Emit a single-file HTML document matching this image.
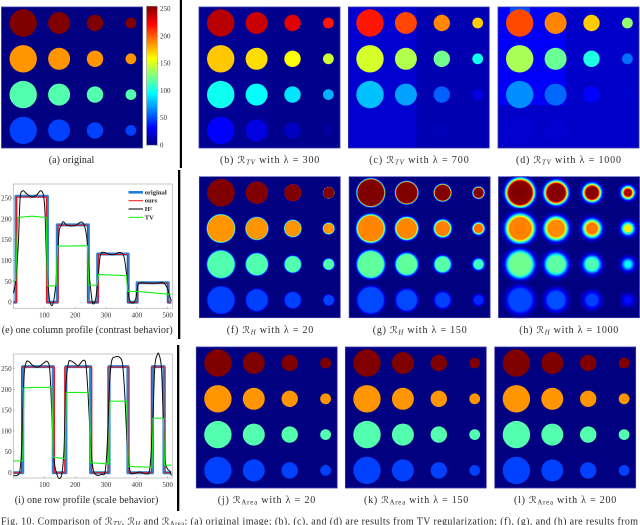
<!DOCTYPE html>
<html lang="en">
<head>
<meta charset="utf-8">
<title>Fig. 10 regularization comparison</title>
<style>
html,body{margin:0;padding:0;background:#fff;width:640px;height:525px;overflow:hidden}
svg{display:block;position:absolute;left:0;top:0}
text{font-family:"Liberation Serif","DejaVu Serif",serif}
.cap{font-size:10px;fill:#2a2a2a}
.math{font-family:"DejaVu Sans","Liberation Serif",serif;font-size:9.5px}
.sub{font-size:6.8px;font-style:italic}
.tick{font-size:7px;fill:#333}
.leg{font-size:6.6px;fill:#222;font-weight:bold}
</style>
</head>
<body>
<svg id="fig" xmlns="http://www.w3.org/2000/svg" width="640" height="525" viewBox="0 0 640 525">
<defs>
<filter id="soft" x="-5%" y="-5%" width="110%" height="110%"><feGaussianBlur stdDeviation="0.35"/></filter>
<filter id="softLine" x="-5%" y="-5%" width="110%" height="110%"><feGaussianBlur stdDeviation="0.3"/></filter>
<filter id="softText" x="-2%" y="-20%" width="104%" height="140%"><feGaussianBlur stdDeviation="0.22"/></filter>
<clipPath id="panelClip"><rect x="-0.5" y="-0.5" width="142" height="142"/></clipPath>
</defs>
<rect x="179.8" y="0" width="2.2" height="168" fill="#000"/>
<rect x="178" y="170" width="2.3" height="169" fill="#000"/>
<rect x="177" y="345" width="2.3" height="166" fill="#000"/>
<g id="panels"></g>
<g id="colorbar"></g>
<g id="charts"></g>

<g filter="url(#softText)">
<text class="cap" x="48.7" y="163" textLength="45.6" lengthAdjust="spacing">(a) original</text>
<text class="cap" x="220" y="163" textLength="99.3" lengthAdjust="spacing">(b) <tspan class="math">ℛ</tspan><tspan class="sub" dy="1.5">TV</tspan><tspan dy="-1.5"> with λ = 300</tspan></text>
<text class="cap" x="369.3" y="163" textLength="99.4" lengthAdjust="spacing">(c) <tspan class="math">ℛ</tspan><tspan class="sub" dy="1.5">TV</tspan><tspan dy="-1.5"> with λ = 700</tspan></text>
<text class="cap" x="516" y="163" textLength="105" lengthAdjust="spacing">(d) <tspan class="math">ℛ</tspan><tspan class="sub" dy="1.5">TV</tspan><tspan dy="-1.5"> with λ = 1000</tspan></text>
<text class="cap" x="1.7" y="333" textLength="171" lengthAdjust="spacing">(e) one column profile (contrast behavior)</text>
<text class="cap" x="226.7" y="333" textLength="86.6" lengthAdjust="spacing">(f) <tspan class="math">ℛ</tspan><tspan class="sub" dy="1.5">H</tspan><tspan dy="-1.5"> with λ = 20</tspan></text>
<text class="cap" x="372.7" y="333" textLength="94" lengthAdjust="spacing">(g) <tspan class="math">ℛ</tspan><tspan class="sub" dy="1.5">H</tspan><tspan dy="-1.5"> with λ = 150</tspan></text>
<text class="cap" x="519.3" y="333" textLength="99" lengthAdjust="spacing">(h) <tspan class="math">ℛ</tspan><tspan class="sub" dy="1.5">H</tspan><tspan dy="-1.5"> with λ = 1000</tspan></text>
<text class="cap" x="14.7" y="503" textLength="143.6" lengthAdjust="spacing">(i) one row profile (scale behavior)</text>
<text class="cap" x="217.7" y="503" textLength="97.6" lengthAdjust="spacing">(j) <tspan class="math">ℛ</tspan><tspan class="sub" dy="1.5" style="font-style:normal">Area</tspan><tspan dy="-1.5"> with λ = 20</tspan></text>
<text class="cap" x="364" y="503" textLength="104.3" lengthAdjust="spacing">(k) <tspan class="math">ℛ</tspan><tspan class="sub" dy="1.5" style="font-style:normal">Area</tspan><tspan dy="-1.5"> with λ = 150</tspan></text>
<text class="cap" x="514" y="503" textLength="102.3" lengthAdjust="spacing">(l) <tspan class="math">ℛ</tspan><tspan class="sub" dy="1.5" style="font-style:normal">Area</tspan><tspan dy="-1.5"> with λ = 200</tspan></text>
<text class="cap" x="1" y="524.5" textLength="637" lengthAdjust="spacing">Fig. 10.  Comparison of <tspan class="math">ℛ</tspan><tspan class="sub" dy="1.5">TV</tspan><tspan dy="-1.5">, </tspan><tspan class="math">ℛ</tspan><tspan class="sub" dy="1.5">H</tspan><tspan dy="-1.5"> and </tspan><tspan class="math">ℛ</tspan><tspan class="sub" dy="1.5" style="font-style:normal">Area</tspan><tspan dy="-1.5">: (a) original image; (b), (c), and (d) are results from TV regularization; (f), (g), and (h) are results from</tspan></text>
</g>
</svg>

<script>
// ----- image panel intensities (0-255), rows by columns -----
const circleRadii = [13.7, 11, 8.2, 5.4];
const levelsOriginal = [[255,255,255,255],[186,186,186,186],[116,116,116,116],[48,48,48,48]];
const levelsTV300 = [[241,236,230,217],[173,168,159,147],[99,96,89,76],[32,24,16,8]];
const levelsTV700 = [[217,206,189,172],[149,140,124,100],[80,72,56,24],[20,20,14,12]];
const levelsTV1000 = [[205,190,172,132],[138,122,102,60],[67,58,32,20],[20,20,18,18]];
const levelsH20 = [[255,255,255,255],[186,186,186,186],[116,116,116,116],[48,48,48,48]];
const levelsH150 = [[255,255,255,255],[190,190,192,196],[120,120,118,112],[50,50,48,42]];
const levelsH1000 = [[255,255,255,245],[192,190,195,165],[124,120,116,96],[50,52,48,36]];
const backgroundTV300 = [3,5];
const backgroundTV700 = [12,20];
const backgroundTV1000 = [18,30];
const stripTV1000 = 52;
const colorbarTicks = [0,50,100,150,200,250];

// ----- column profile series -----
const columnOriginalX = [0,8,8,110,110,142,142,243,243,273,273,372,372,401,401,502,502,512];
const columnOriginalY = [0,0,255,255,0,0,186,186,0,0,116,116,0,0,47,47,0,0];
const columnOursX = [0,10,10,107,107,145,145,240,240,275,275,370,370,403,403,500,500,512];
const columnOursY = [0,0,253,253,0,0,185,185,0,0,115,115,0,0,46,46,0,0];
const columnH2X = [0,8,16,21.5,30,41,59,75,88,97,102,107,113,118,125,131,137,142,148,155,161,172,188,204,220,231,239,245,253,258,267,275,282,293,312,328,345,358,367,375,386,397,404,415,437,464,486,499,507,512];
const columnH2Y = [22,58,146,250,268,262,253,258,268,258,218,106,34,2,-8,6,42,98,170,184,194,186,183,186,193,182,146,74,14,-4,10,66,114,120,115,115,120,110,66,10,-2,10,42,47,46,46,47,34,14,3];
const columnTVX = [0,7,14,60,106,110,138,143,240,244,271,276,366,371,400,512];
const columnTVY = [51,52,204,207,204,40,39,135,136,41,41,67,64,26,26,19];

// ----- row profile series -----
const rowOriginalX = [0,30,30,129,129,170,170,250,250,310,310,371,371,451,451,488,488,512];
const rowOriginalY = [0,0,255,255,0,0,255,255,0,0,255,255,0,0,255,255,0,0];
const rowOursX = [0,26,26,133,133,166,166,254,254,306,306,375,375,447,447,492,492,512];
const rowOursY = [0,0,254,254,0,0,254,254,0,0,254,254,0,0,254,254,0,0];
const rowH2X = [0,13,21,27,34,40,48,64,80,97,110,118,125,131,140,148,157,164,170,178,185,199,210,226,235,242,250,258,270,286,297,304,311,318,329,345,354,361,369,378,388,410,431,442,451,458,466,472,480,485,491,499,507,512];
const rowH2Y = [-7,-6,6,66,227,263,268,257,254,263,267,243,130,34,-2,-14,-2,58,210,263,269,263,257,270,259,187,74,10,-6,-4,2,66,203,267,278,277,259,187,66,4,-2,2,-3,10,107,251,283,284,251,147,34,10,4,-7];
const rowTVX = [0,30,34,64,124,129,167,171,246,250,308,313,367,372,449,453,486,490,512];
const rowTVY = [28,29,204,205,205,37,34,193,193,24,21,172,172,15,13,131,131,18,18];

// ----- shared tick and legend labels -----
const profileYTicks = [0,50,100,150,200,250];
const profileXTicks = [100,200,300,400,500];
const legendLabels = ['original','ours','H²','TV'];
const legendColors = ['#1f7fd0','#f23a3a','#111111','#22ee22'];

const NS = 'http://www.w3.org/2000/svg';
function mk(tag, parent) {
  const el = document.createElementNS(NS, tag);
  parent.appendChild(el);
  return el;
}
function clamp01(v) { return Math.max(0, Math.min(1, v)); }
function jet(value) {
  const v = clamp01(value / 255);
  const r = clamp01(1.5 - Math.abs(4 * v - 3));
  const g = clamp01(1.5 - Math.abs(4 * v - 2));
  const b = clamp01(1.5 - Math.abs(4 * v - 1));
  return 'rgb(' + Math.round(r * 255) + ',' + Math.round(g * 255) + ',' + Math.round(b * 255) + ')';
}

const PANEL_SIZE = 141;
function panelX(col) { return 21.7 + col * 35.9; }
function panelY(row) { return 16 + row * 35.8; }

const svgRoot = document.getElementById('fig');
const defsRoot = svgRoot.querySelector('defs');
const panelsRoot = document.getElementById('panels');
let gradientCount = 0;

function softProfile(level, radius, s, r) {
  const edge = 1 / (1 + Math.exp((r - radius - 0.3) / s));
  const bump = 0.1 * Math.exp(-Math.pow((r - (radius - 1.8 * s)) / (s * 1.1), 2));
  return level * (edge + bump);
}

function softnessFor(value, softness) {
  if (value < 240) return softness;
  if (softness < 0.5) return softness * 0.3;
  if (softness < 1) return softness * 0.6;
  return softness * 0.8;
}

function drawPanel(name, left, top, levels, background, softness) {
  const g = mk('g', panelsRoot);
  
  
  g.setAttribute('transform', 'translate(' + left + ',' + top + ')');
  g.setAttribute('filter', 'url(#soft)');
  g.setAttribute('clip-path', 'url(#panelClip)');
  const bg = mk('rect', g);
  
  
  bg.setAttribute('width', PANEL_SIZE);
  bg.setAttribute('height', PANEL_SIZE);
  bg.setAttribute('fill', jet(background[0]));
  if (background[1] !== undefined) {
    const patch = mk('rect', g);
    
    
    patch.setAttribute('width', 68);
    patch.setAttribute('height', name === 'panel-d' ? 98 : PANEL_SIZE);
    patch.setAttribute('fill', jet(background[1]));
  }
  if (name === 'panel-d') {
    const strip = mk('rect', g);
    
    
    strip.setAttribute('x', 12);
    strip.setAttribute('width', 20);
    strip.setAttribute('height', 6);
    strip.setAttribute('fill', jet(stripTV1000));
  }
  levels.forEach(function (rowVals, row) {
    rowVals.forEach(function (value, col) {
      const radius = circleRadii[col];
      const c = mk('circle', g);
      
      
      c.setAttribute('cx', panelX(col));
      c.setAttribute('cy', panelY(row));
      if (softness > 0) {
        const s = softnessFor(value, softness);
        const outer = radius + 4.5 * s;
        const id = 'grad' + (gradientCount++);
        const grad = mk('radialGradient', defsRoot);
        grad.setAttribute('id', id);
        for (let i = 0; i <= 24; i++) {
          const stop = mk('stop', grad);
          stop.setAttribute('offset', i / 24);
          const val = softProfile(value, radius, s, outer * i / 24);
          stop.setAttribute('stop-color', jet(val));
          stop.setAttribute('stop-opacity', i === 24 ? 0 : clamp01(val / 4));
        }
        c.setAttribute('r', outer);
        c.setAttribute('fill', 'url(#' + id + ')');
      } else {
        c.setAttribute('r', radius);
        c.setAttribute('fill', jet(value));
      }
    });
  });
  const frame = mk('rect', g);
  
  
  frame.setAttribute('width', PANEL_SIZE);
  frame.setAttribute('height', PANEL_SIZE);
  frame.setAttribute('fill', 'none');
  frame.setAttribute('stroke', '#3a3aa6');
  frame.setAttribute('stroke-width', '0.8');
}

drawPanel('panel-a', 1.5, 7, levelsOriginal, [0], 0);
drawPanel('panel-b', 199, 7, levelsTV300, backgroundTV300, 0);
drawPanel('panel-c', 348.3, 7, levelsTV700, backgroundTV700, 0);
drawPanel('panel-d', 498, 7, levelsTV1000, backgroundTV1000, 0);
drawPanel('panel-f', 199.3, 176.7, levelsH20, [0], 0.35);
drawPanel('panel-g', 349.1, 176.7, levelsH150, [0], 0.7);
drawPanel('panel-h', 498.5, 176.7, levelsH1000, [0], 1.55);
drawPanel('panel-j', 196.2, 347, levelsOriginal, [0], 0);
drawPanel('panel-k', 345.3, 347, levelsOriginal, [0], 0);
drawPanel('panel-l', 494.7, 347, levelsOriginal, [0], 0);

// ----- colorbar -----
(function () {
  const root = document.getElementById('colorbar');
  const grad = mk('linearGradient', defsRoot);
  grad.setAttribute('id', 'jetBar');
  grad.setAttribute('x1', 0); grad.setAttribute('x2', 0);
  grad.setAttribute('y1', 1); grad.setAttribute('y2', 0);
  for (let i = 0; i <= 32; i++) {
    const stop = mk('stop', grad);
    stop.setAttribute('offset', i / 32);
    stop.setAttribute('stop-color', jet(255 * i / 32));
  }
  const bar = mk('rect', root);
  
  
  bar.setAttribute('x', 146.5); bar.setAttribute('y', 6.2);
  bar.setAttribute('width', 10.8); bar.setAttribute('height', 139);
  bar.setAttribute('fill', 'url(#jetBar)');
  bar.setAttribute('stroke', '#999'); bar.setAttribute('stroke-width', '0.6');
  bar.setAttribute('filter', 'url(#softLine)');
  const barY = function (v) { return 145.2 - v * 139 / 255; };
  colorbarTicks.forEach(function (tick) {
    const t = mk('text', root);
    
    
    t.setAttribute('class', 'tick');
    t.setAttribute('x', 160);
    t.setAttribute('y', barY(tick) + 2.3);
    t.setAttribute('filter', 'url(#softText)');
    t.textContent = tick;
    const m = mk('line', root);
    
    
    m.setAttribute('x1', 157.3); m.setAttribute('x2', 158.6);
    m.setAttribute('y1', barY(tick)); m.setAttribute('y2', barY(tick));
    m.setAttribute('stroke', '#777'); m.setAttribute('stroke-width', '0.5');
  });
})();

// ----- profile charts -----
const chartsRoot = document.getElementById('charts');

function smoothPath(xs, ys) {
  let d = 'M' + xs[0].toFixed(2) + ' ' + ys[0].toFixed(2);
  for (let i = 0; i < xs.length - 1; i++) {
    const p0 = Math.max(0, i - 1);
    const p3 = Math.min(xs.length - 1, i + 2);
    const c1x = xs[i] + (xs[i + 1] - xs[p0]) / 6;
    const c1y = ys[i] + (ys[i + 1] - ys[p0]) / 6;
    const c2x = xs[i + 1] - (xs[p3] - xs[i]) / 6;
    const c2y = ys[i + 1] - (ys[p3] - ys[i]) / 6;
    d += 'C' + c1x.toFixed(2) + ' ' + c1y.toFixed(2) + ' ' + c2x.toFixed(2) + ' ' + c2y.toFixed(2) + ' ' + xs[i + 1].toFixed(2) + ' ' + ys[i + 1].toFixed(2);
  }
  return d;
}

function drawChart(name, box, series, showLegend) {
  const g = mk('g', chartsRoot);
  
  
  const xScale = function (v) { return 13.5 + v * 0.3083; };
  const yScale = function (v) { return box.zero - v * box.k; };

  const frame = mk('rect', g);
  
  
  frame.setAttribute('x', box.left); frame.setAttribute('y', box.top);
  frame.setAttribute('width', box.right - box.left);
  frame.setAttribute('height', box.bottom - box.top);
  frame.setAttribute('fill', '#fff');
  frame.setAttribute('stroke', '#b0b0b0'); frame.setAttribute('stroke-width', '0.7');

  profileYTicks.forEach(function (tick) {
    const t = mk('text', g);
    
    
    t.setAttribute('class', 'tick');
    t.setAttribute('x', 11.6);
    t.setAttribute('y', yScale(tick) + 2.3);
    t.setAttribute('text-anchor', 'end');
    t.setAttribute('filter', 'url(#softText)');
    t.textContent = tick;
    const m = mk('line', g);
    
    
    m.setAttribute('x1', box.left); m.setAttribute('x2', box.left + 1.5);
    m.setAttribute('y1', yScale(tick)); m.setAttribute('y2', yScale(tick));
    m.setAttribute('stroke', '#888'); m.setAttribute('stroke-width', '0.5');
  });
  profileXTicks.forEach(function (tick) {
    const t = mk('text', g);
    
    
    t.setAttribute('class', 'tick');
    t.setAttribute('x', xScale(tick));
    t.setAttribute('y', box.bottom + 9);
    t.setAttribute('text-anchor', 'middle');
    t.setAttribute('filter', 'url(#softText)');
    t.textContent = tick;
    const m = mk('line', g);
    
    
    m.setAttribute('x1', xScale(tick)); m.setAttribute('x2', xScale(tick));
    m.setAttribute('y1', box.bottom); m.setAttribute('y2', box.bottom - 1.5);
    m.setAttribute('stroke', '#888'); m.setAttribute('stroke-width', '0.5');
  });

  series.forEach(function (s) {
    const line = mk('path', g);
    
    
    line.setAttribute('fill', 'none');
    line.setAttribute('stroke', s.color);
    line.setAttribute('stroke-width', s.width);
    line.setAttribute('stroke-linejoin', 'round');
    line.setAttribute('filter', 'url(#softLine)');
    const px = s.x.map(xScale);
    const py = s.y.map(yScale);
    if (s.smooth) {
      line.setAttribute('d', smoothPath(px, py));
    } else {
      line.setAttribute('d', 'M' + px.map(function (v, i) {
        return v.toFixed(2) + ' ' + py[i].toFixed(2);
      }).join('L'));
    }
  });

  if (showLegend) {
    const widths = [2.6, 1.2, 1.1, 1.1];
    legendLabels.forEach(function (label, i) {
      const y = 192.3 + i * 8.35;
      const sw = mk('line', g);
      
      
      sw.setAttribute('x1', 128.5); sw.setAttribute('x2', 143);
      sw.setAttribute('y1', y); sw.setAttribute('y2', y);
      sw.setAttribute('stroke', legendColors[i]);
      sw.setAttribute('stroke-width', widths[i]);
      const t = mk('text', g);
      
      
      t.setAttribute('class', 'leg');
      t.setAttribute('x', 144.7);
      t.setAttribute('y', y + 2);
      t.setAttribute('filter', 'url(#softText)');
      t.textContent = label;
    });
  }
}

drawChart('column-profile-chart',
  { left: 13.3, right: 172.3, top: 184, bottom: 308.3, zero: 302.3, k: 0.416 },
  [
    { name: 'series-original', color: '#2a84d2', width: 3, x: columnOriginalX, y: columnOriginalY },
    { name: 'series-ours', color: '#e0182c', width: 1.1, x: columnOursX, y: columnOursY },
    { name: 'series-h2', color: '#111111', width: 1, x: columnH2X, y: columnH2Y, smooth: true },
    { name: 'series-tv', color: '#18f018', width: 1.1, x: columnTVX, y: columnTVY }
  ], true);

drawChart('row-profile-chart',
  { left: 13.3, right: 172.3, top: 354, bottom: 478, zero: 472.7, k: 0.416 },
  [
    { name: 'series-original', color: '#2a84d2', width: 3, x: rowOriginalX, y: rowOriginalY },
    { name: 'series-ours', color: '#e0182c', width: 1.1, x: rowOursX, y: rowOursY },
    { name: 'series-h2', color: '#111111', width: 1, x: rowH2X, y: rowH2Y, smooth: true },
    { name: 'series-tv', color: '#18f018', width: 1.1, x: rowTVX, y: rowTVY }
  ], false);
</script>
</body>
</html>
